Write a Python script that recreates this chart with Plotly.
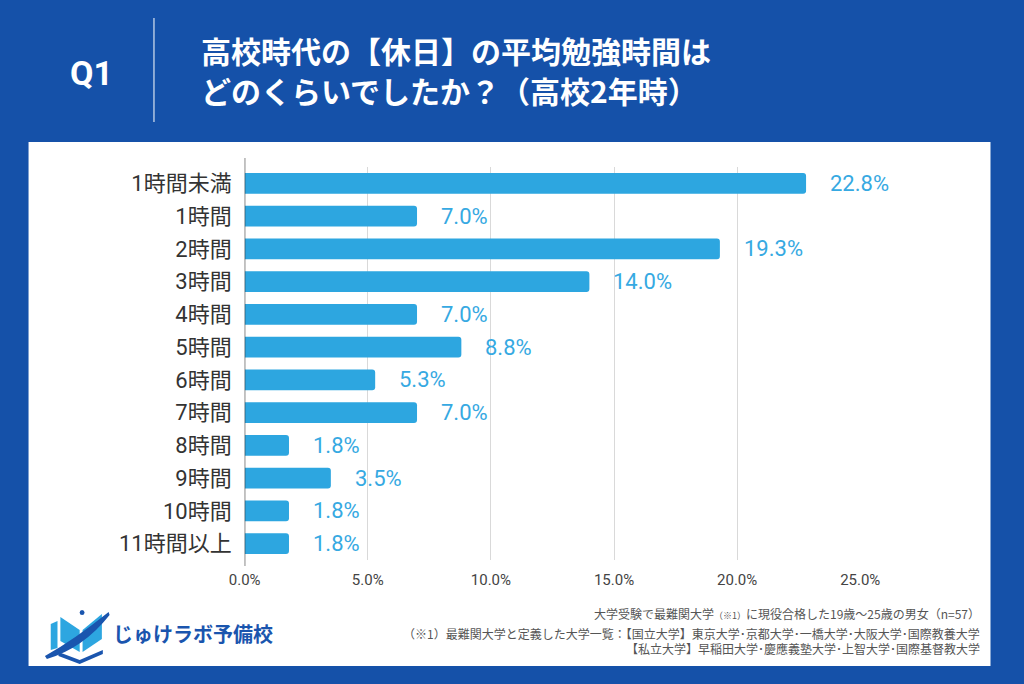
import plotly.graph_objects as go

categories = ["1時間未満", "1時間", "2時間", "3時間", "4時間", "5時間", "6時間",
              "7時間", "8時間", "9時間", "10時間", "11時間以上"]
values = [22.8, 7.0, 19.3, 14.0, 7.0, 8.8, 5.3, 7.0, 1.8, 3.5, 1.8, 1.8]
x_ticks = [0, 5, 10, 15, 20, 25]
x_tick_labels = ["0.0%", "5.0%", "10.0%", "15.0%", "20.0%", "25.0%"]

title_lines = ["高校時代の【休日】の平均勉強時間は", "どのくらいでしたか？（高校2年時）"]
footer_lines = [
    "大学受験で最難関大学<span style='font-size:9px'>（※1）</span>に現役合格した19歳～25歳の男女（n=57）",
    "（※1）最難関大学と定義した大学一覧：【国立大学】東京大学･京都大学･一橋大学･大阪大学･国際教養大学",
    "【私立大学】早稲田大学･慶應義塾大学･上智大学･国際基督教大学",
]

W, H = 1024, 684
BLUE = "#1551A9"
BAR = "#2DA6E0"
LABEL = "#36A9E2"
FONT = "Roboto, 'Noto Sans CJK JP', sans-serif"
JP = "'Noto Sans CJK JP', sans-serif"


def px(x):
    return x / W


def py(y):
    return 1 - y / H


fig = go.Figure()
fig.add_trace(go.Bar(
    x=values, y=categories, orientation="h",
    marker=dict(color=BAR, line=dict(width=0)),
    width=0.64, hoverinfo="skip",
))

annotations = []
for c, v in zip(categories, values):
    annotations.append(dict(
        x=v, y=c, xref="x", yref="y", text=f"{v:.1f}%", showarrow=False,
        xanchor="left", xshift=22, font=dict(family=FONT, size=22, color=LABEL),
    ))

# header
annotations.append(dict(x=px(78), y=py(73), xref="paper", yref="paper", text="<b>Q1</b>",
                        showarrow=False, xanchor="center", yanchor="middle",
                        font=dict(family=FONT, size=34, color="white")))
annotations.append(dict(x=px(190), y=py(50), xref="paper", yref="paper", text=f"<b>{title_lines[0]}</b>",
                        showarrow=False, xanchor="left", yanchor="middle",
                        font=dict(family=JP, size=30, color="white")))
annotations.append(dict(x=px(190), y=py(90), xref="paper", yref="paper", text=f"<b>{title_lines[1]}</b>",
                        showarrow=False, xanchor="left", yanchor="middle",
                        font=dict(family=JP, size=30, color="white")))

# footer
for t, yy in zip(footer_lines, [613, 633, 648]):
    annotations.append(dict(x=px(1001), y=py(yy), xref="paper", yref="paper", text=t,
                            showarrow=False, xanchor="right", yanchor="middle",
                            font=dict(family=JP, size=12, color="#555555")))

# logo text
annotations.append(dict(x=px(98), y=py(633), xref="paper", yref="paper", text="<b>じゅけラボ予備校</b>",
                        showarrow=False, xanchor="left", yanchor="middle",
                        font=dict(family=JP, size=20, color="#1A55AE")))

shapes = [
    # white panel
    dict(type="rect", xref="paper", yref="paper", x0=px(13), x1=px(1010), y0=py(666), y1=py(142),
         fillcolor="white", line=dict(width=0), layer="below"),
    # header divider
    dict(type="line", xref="paper", yref="paper", x0=px(143), x1=px(143), y0=py(18), y1=py(122),
         line=dict(color="white", width=1)),
    # axis line at zero
    dict(type="line", xref="x", yref="paper", x0=0, x1=0, y0=py(158), y1=py(566),
         line=dict(color="#333333", width=1.2)),
]


def path(points):
    return "M " + " L ".join(f"{px(x):.5f},{py(y):.5f}" for x, y in points) + " Z"


# logo icon (book)
shapes.append(dict(type="path", xref="paper", yref="paper",
                   path=path([(36, 624), (43, 621), (43, 648), (36, 650)]),
                   fillcolor="#2DA6E0", line=dict(width=0)))
shapes.append(dict(type="path", xref="paper", yref="paper",
                   path=path([(46, 617), (66, 630), (66, 652), (46, 641)]),
                   fillcolor="#2DA6E0", line=dict(width=0)))
shapes.append(dict(type="path", xref="paper", yref="paper",
                   path=path([(69, 630), (89, 614), (89, 639), (69, 652)]),
                   fillcolor="#2DA6E0", line=dict(width=0)))
shapes.append(dict(type="path", xref="paper", yref="paper",
                   path=(f"M {px(30):.5f},{py(656):.5f} Q {px(60):.5f},{py(640):.5f} {px(96):.5f},{py(612):.5f} "
                         f"L {px(97):.5f},{py(615):.5f} Q {px(70):.5f},{py(648):.5f} {px(32):.5f},{py(659):.5f} Z"),
                   fillcolor="#1A55AE", line=dict(width=0)))
shapes.append(dict(type="path", xref="paper", yref="paper",
                   path=path([(44, 652), (66, 660), (90, 650), (90, 654), (66, 664), (44, 656)]),
                   fillcolor="#1A55AE", line=dict(width=0)))
shapes.append(dict(type="circle", xref="paper", yref="paper",
                   x0=px(66), x1=px(71), y0=py(615), y1=py(610),
                   fillcolor="#1A55AE", line=dict(width=0)))

fig.update_layout(
    width=W, height=H,
    margin=dict(l=0, r=0, t=0, b=0),
    paper_bgcolor=BLUE, plot_bgcolor="white",
    showlegend=False,
    barcornerradius=3,
    font=dict(family=FONT, color="#333333"),
    xaxis=dict(domain=[px(237), px(875)], range=[0, 25], tickvals=x_ticks, ticktext=x_tick_labels,
               showgrid=True, gridcolor="#D9D9D9", gridwidth=1, zeroline=False, showline=False,
               tickfont=dict(family=FONT, size=15, color="#444444"), ticks="", ticklabelstandoff=9,
               fixedrange=True),
    yaxis=dict(domain=[py(560), py(167)], autorange="reversed", categoryorder="array",
               categoryarray=categories, showgrid=False, zeroline=False, showline=False, ticks="",
               tickfont=dict(family=FONT, size=22, color="#333333"),
               ticklabelstandoff=12, fixedrange=True),
    annotations=annotations,
    shapes=shapes,
)

fig.write_html("out.html", config={"displayModeBar": False},
               post_script="document.body.style.margin='0';document.body.style.overflow='hidden';")
